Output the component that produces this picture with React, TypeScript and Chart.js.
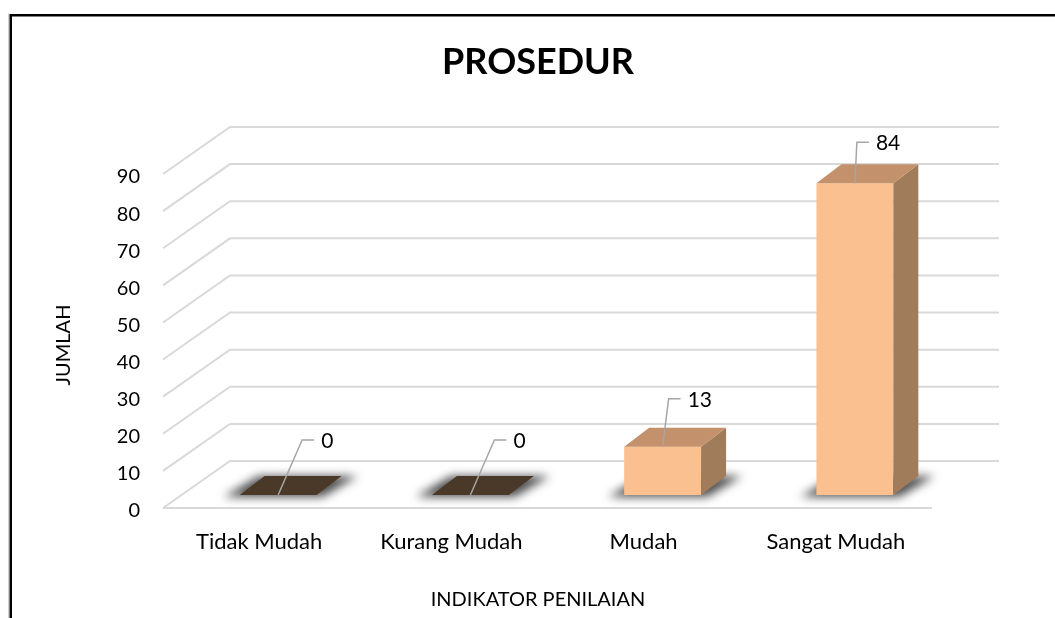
import React, { useEffect, useRef } from "react";
import { Chart, registerables } from "chart.js";

Chart.register(...registerables);

// ---- data ----
const TITLE = "PROSEDUR";
const X_TITLE = "INDIKATOR PENILAIAN";
const Y_TITLE = "JUMLAH";
const CATEGORIES = ["Tidak Mudah", "Kurang Mudah", "Mudah", "Sangat Mudah"];
const VALUES = [0, 0, 13, 84];
const Y_MIN = 0;
const Y_MAX = 90;
const Y_STEP = 10;

// ---- styling / geometry ----
const FONT = "Lato, 'Open Sans', sans-serif";
const FRONT_COLOR = "#FAC090";
const TOP_COLOR = "#C3916B";
const SIDE_COLOR = "#A07C5A";
const ZERO_TOP_COLOR = "#4A3828";
const GRID_COLOR = "#D9D9D9";
const LEADER_COLOR = "#A6A6A6";
const BAR_DEPTH = { dx: 25, dy: -19 };
const WALL = { dx: 48, dy: -34 };
const FRONT = { dx: -19, dy: 13 };
const LEADERS = [
  { dx: 24, dy: -55 },
  { dx: 24, dy: -55 },
  { dx: 6, dy: -48 },
  { dx: 2, dy: -41 },
];

function poly(ctx: CanvasRenderingContext2D, pts: number[][], fill: string) {
  ctx.beginPath();
  ctx.moveTo(pts[0][0], pts[0][1]);
  for (let i = 1; i < pts.length; i++) ctx.lineTo(pts[i][0], pts[i][1]);
  ctx.closePath();
  ctx.fillStyle = fill;
  ctx.fill();
}

const threeD = {
  id: "threeD",
  beforeDraw(chart: any) {
    const ctx: CanvasRenderingContext2D = chart.ctx;
    ctx.save();
    ctx.fillStyle = "#fff";
    ctx.fillRect(0, 0, chart.width, chart.height);
    // outer frame
    ctx.strokeStyle = "#D0D0D0";
    ctx.lineWidth = 1;
    ctx.beginPath();
    ctx.moveTo(8.5, chart.height);
    ctx.lineTo(8.5, 13.5);
    ctx.stroke();
    ctx.strokeStyle = "#000";
    ctx.lineWidth = 2.5;
    ctx.beginPath();
    ctx.moveTo(10.75, chart.height);
    ctx.lineTo(10.75, 15.25);
    ctx.lineTo(chart.width, 15.25);
    ctx.stroke();
    // title
    ctx.fillStyle = "#000";
    ctx.font = `bold 36px ${FONT}`;
    ctx.textAlign = "center";
    ctx.textBaseline = "alphabetic";
    ctx.fillText(TITLE, 538, 74);
    ctx.restore();
  },
  beforeDatasetsDraw(chart: any) {
    const ctx: CanvasRenderingContext2D = chart.ctx;
    const area = chart.chartArea;
    const y = chart.scales.y;
    ctx.save();
    ctx.strokeStyle = GRID_COLOR;
    ctx.lineWidth = 2;
    ctx.lineCap = "butt";
    y.ticks.forEach((t: any) => {
      const py = y.getPixelForValue(t.value);
      ctx.beginPath();
      ctx.moveTo(area.left + FRONT.dx, py + FRONT.dy);
      ctx.lineTo(area.left + WALL.dx, py + WALL.dy);
      ctx.lineTo(area.right + WALL.dx, py + WALL.dy);
      ctx.stroke();
    });
    const p0 = y.getPixelForValue(0);
    ctx.beginPath();
    ctx.moveTo(area.left + FRONT.dx, p0 + FRONT.dy);
    ctx.lineTo(area.right + FRONT.dx, p0 + FRONT.dy);
    ctx.stroke();

    // soft floor shadows
    const meta = chart.getDatasetMeta(0);
    ctx.filter = "blur(5px)";
    meta.data.forEach((bar: any) => {
      const { x, base, width } = bar.getProps(["x", "base", "width"], true);
      const l = x - width / 2;
      const r = x + width / 2;
      poly(
        ctx,
        [
          [l - 16, base + 2],
          [r + 6, base + 2],
          [r + BAR_DEPTH.dx + 16, base + BAR_DEPTH.dy],
          [l + BAR_DEPTH.dx - 6, base + BAR_DEPTH.dy],
        ],
        "rgba(35,35,35,0.8)"
      );
    });
    ctx.filter = "none";
    ctx.restore();
  },
  afterDatasetsDraw(chart: any) {
    const ctx: CanvasRenderingContext2D = chart.ctx;
    const meta = chart.getDatasetMeta(0);
    const data = chart.data.datasets[0].data as number[];
    ctx.save();
    meta.data.forEach((bar: any, i: number) => {
      const { x, y, base, width } = bar.getProps(["x", "y", "base", "width"], true);
      const l = x - width / 2;
      const r = x + width / 2;
      const v = data[i];
      if (v !== 0) {
        poly(
          ctx,
          [
            [r, y],
            [r + BAR_DEPTH.dx, y + BAR_DEPTH.dy],
            [r + BAR_DEPTH.dx, base + BAR_DEPTH.dy],
            [r, base],
          ],
          SIDE_COLOR
        );
      }
      poly(
        ctx,
        [
          [l, y],
          [r, y],
          [r + BAR_DEPTH.dx, y + BAR_DEPTH.dy],
          [l + BAR_DEPTH.dx, y + BAR_DEPTH.dy],
        ],
        v === 0 ? ZERO_TOP_COLOR : TOP_COLOR
      );
      // leader line + label
      const L = LEADERS[i];
      ctx.strokeStyle = LEADER_COLOR;
      ctx.lineWidth = 1.5;
      ctx.beginPath();
      ctx.moveTo(x, y);
      ctx.lineTo(x + L.dx, y + L.dy);
      ctx.lineTo(x + L.dx + 12, y + L.dy);
      ctx.stroke();
      ctx.fillStyle = "#000";
      ctx.font = `21px ${FONT}`;
      ctx.textAlign = "left";
      ctx.textBaseline = "middle";
      ctx.fillText(String(v), x + L.dx + 19, y + L.dy + 1);
    });
    ctx.restore();
  },
  afterDraw(chart: any) {
    const ctx: CanvasRenderingContext2D = chart.ctx;
    ctx.save();
    ctx.fillStyle = "#000";
    ctx.font = `20px ${FONT}`;
    ctx.textAlign = "center";
    ctx.textBaseline = "alphabetic";
    ctx.fillText(X_TITLE, 538, 606);
    ctx.translate(70, 345);
    ctx.rotate(-Math.PI / 2);
    ctx.textBaseline = "alphabetic";
    ctx.fillText(Y_TITLE, 0, 0);
    ctx.restore();
  },
};

export default function App() {
  const ref = useRef<HTMLCanvasElement>(null);
  useEffect(() => {
    if (!ref.current) return;
    const chart = new Chart(ref.current, {
      type: "bar",
      data: {
        labels: CATEGORIES,
        datasets: [
          {
            data: VALUES,
            backgroundColor: FRONT_COLOR,
            borderWidth: 0,
            barPercentage: 0.4,
            categoryPercentage: 1,
          },
        ],
      },
      options: {
        responsive: false,
        animation: false,
        devicePixelRatio: 1,
        layout: { padding: { top: 161, right: 104, left: 0, bottom: 0 } },
        plugins: {
          legend: { display: false },
          tooltip: { enabled: false },
          title: { display: false },
        },
        scales: {
          x: {
            grid: { display: false, drawTicks: false },
            border: { display: false },
            ticks: {
              color: "#000",
              font: { family: FONT, size: 22 },
              padding: 34,
              labelOffset: -19,
              maxRotation: 0,
              autoSkip: false,
            },
            afterFit: (s: any) => {
              s.height = 618 - 495;
            },
          },
          y: {
            min: Y_MIN,
            max: Y_MAX,
            grid: { display: false, drawTicks: false },
            border: { display: false },
            ticks: {
              stepSize: Y_STEP,
              color: "#000",
              font: { family: FONT, size: 20 },
              padding: 42,
              labelOffset: 16,
            },
            afterFit: (s: any) => {
              s.width = 182;
            },
          },
        },
      },
      plugins: [threeD],
    });
    return () => chart.destroy();
  }, []);
  return (
    <div style={{ position: "absolute", left: 0, top: 0, width: 1055, height: 618 }}>
      <canvas ref={ref} width={1055} height={618} style={{ display: "block", width: 1055, height: 618 }} />
    </div>
  );
}
